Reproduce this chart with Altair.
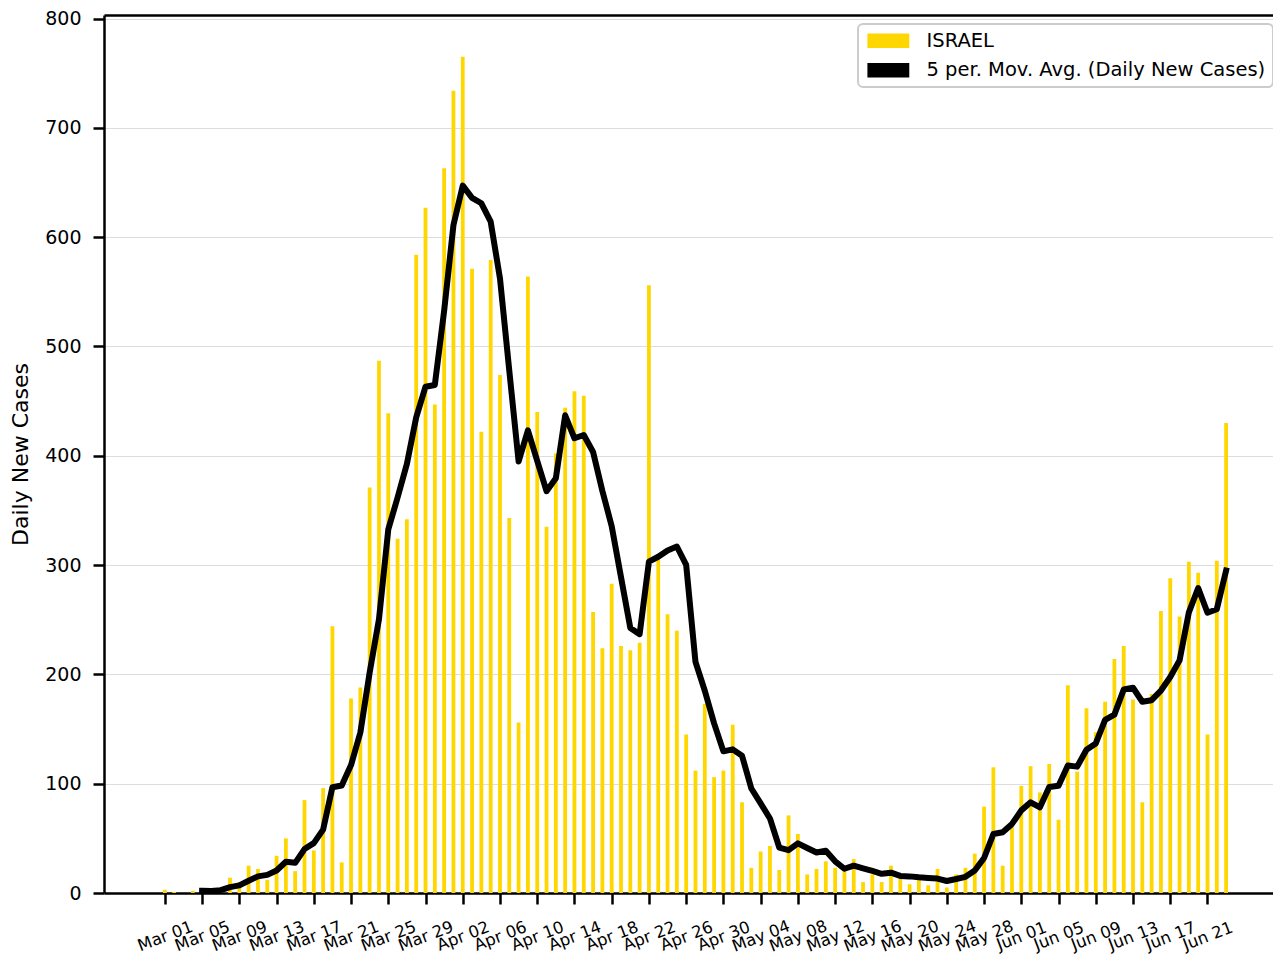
import altair as alt
import pandas as pd

# Daily new cases, Israel, 2020-03-01 .. 2020-06-23
cases_mar = [3, 1, 0, 2, 4, 2, 5, 14, 10, 25, 22, 12, 34, 50, 20, 85, 39, 96, 244, 28,
             178, 188, 371, 487, 439, 324, 342, 584, 627, 447, 663]
cases_apr = [734, 765, 571, 422, 579, 474, 343, 156, 564, 440, 335, 402, 444, 459, 455,
             257, 224, 283, 226, 222, 229, 556, 305, 255, 240, 145, 112, 173, 106, 112]
cases_may = [154, 83, 23, 38, 43, 21, 71, 54, 17, 22, 29, 23, 20, 31, 10, 17, 10, 25, 16,
             8, 13, 7, 22, 5, 17, 23, 36, 79, 115, 25, 61]
cases_jun = [98, 116, 92, 118, 67, 190, 111, 169, 147, 175, 214, 226, 177, 83, 182, 258,
             288, 253, 303, 293, 145, 304, 430]

cases = cases_mar + cases_apr + cases_may + cases_jun
dates = pd.date_range("2020-03-01", periods=len(cases), freq="D").strftime("%Y-%m-%d").tolist()

tick_dates = pd.date_range("2020-03-01", "2020-06-21", freq="4D")
series_names = ["ISRAEL", "5 per. Mov. Avg. (Daily New Cases)"]
series_colors = ["#FFD700", "#000000"]
y_ticks = [0, 100, 200, 300, 400, 500, 600, 700, 800]

df = pd.DataFrame({"date": dates, "cases": cases, "series": series_names[0]})

FONT = "DejaVu Sans"

x_scale = alt.Scale(
    type="utc",
    domain=[alt.DateTime(year=2020, month=2, date=24, utc=True),
            alt.DateTime(year=2020, month=6, date=27, hours=12, utc=True)],
)
x_axis = alt.Axis(
    values=[alt.DateTime(year=2020, month=int(d.month), date=int(d.day), utc=True) for d in tick_dates],
    format="%b %d",
    title=None,
    grid=False,
    labelAngle=-21,
    labelAlign="center",
    labelBaseline="middle",
    labelPadding=32,
    labelFontSize=16.5,
    labelOverlap=False,
    tickSize=11,
)
x_axis_top = alt.Axis(
    orient="top",
    title=None,
    grid=False,
    labels=False,
    ticks=False,
    domain=True,
)
y_scale = alt.Scale(domain=[0, 803.25], nice=False, zero=True)
y_axis = alt.Axis(
    values=y_ticks,
    title="Daily New Cases",
    grid=True,
    labelFontSize=19,
    labelPadding=12,
    tickSize=11,
    titleFontSize=22,
    titleFontWeight="normal",
    titleAngle=270,
    titleAlign="center",
    titleBaseline="middle",
    titleX=-84,
    titleY=439,
)

base = alt.Chart(df)

bars = base.mark_bar(size=3.8).encode(
    x=alt.X("date:T", scale=x_scale, axis=x_axis),
    y=alt.Y("cases:Q", scale=y_scale, axis=y_axis),
    color=alt.Color(
        "series:N",
        scale=alt.Scale(domain=series_names, range=series_colors),
        legend=alt.Legend(
            orient="none",
            legendX=754,
            legendY=9,
            title=None,
            symbolType="M-1,-1H4.7V1H-1Z",
            symbolSize=216,
            symbolStrokeWidth=0,
            symbolOpacity=1,
            labelFont=FONT,
            labelFontSize=19.5,
            labelColor="black",
            labelOffset=42,
            labelLimit=600,
            padding=7,
            rowPadding=8.5,
            fillColor="white",
            strokeColor="#cccccc",
            cornerRadius=5,
        ),
    ),
)

line = base.transform_window(
    ma="mean(cases)", n="count()", frame=[-4, 0], sort=[alt.SortField("date")]
).transform_filter("datum.n == 5").mark_line(
    color="black", strokeWidth=6, strokeJoin="round", strokeCap="square"
).encode(
    x=alt.X("date:T", scale=x_scale, axis=x_axis_top),
    y=alt.Y("ma:Q", scale=y_scale, axis=y_axis),
)

chart = alt.layer(bars, line).resolve_axis(x="independent").properties(
    width=1169,
    height=878,
    padding={"left": 96, "top": 7, "right": 0, "bottom": 64},
    autosize=alt.AutoSizeParams(type="none"),
    background="white",
).configure_axis(
    labelFont=FONT,
    titleFont=FONT,
    labelColor="black",
    titleColor="black",
    domainColor="black",
    domainWidth=2.5,
    tickColor="black",
    tickWidth=2.5,
    gridColor="#dddddd",
    gridWidth=1,
).configure_legend(
    strokeWidth=2,
).configure_view(
    strokeOpacity=0,
)

chart.save("out.html", embed_options={"renderer": "svg", "actions": False})
